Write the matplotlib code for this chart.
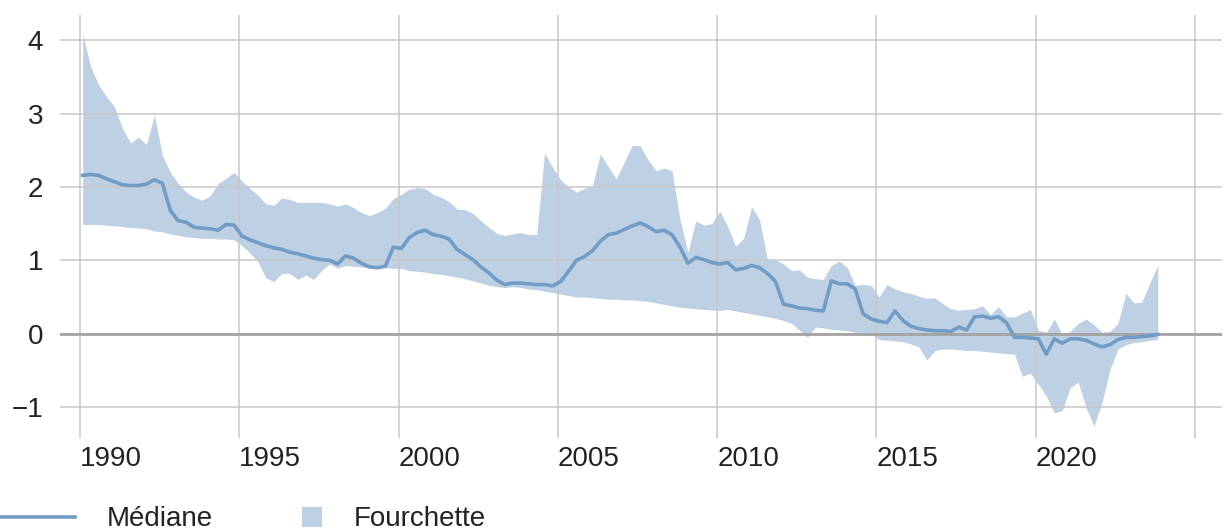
import numpy as np
import matplotlib
matplotlib.use("Agg")
import matplotlib.pyplot as plt
from matplotlib.lines import Line2D
from matplotlib.patches import Rectangle

plt.rcParams['font.family'] = ['Liberation Sans', 'DejaVu Sans']

# quarterly observations, 1990 Q1 .. 2023 Q4 (placed at mid-quarter month)
first_year = 1990
n_quarters = 136

upper = [
    4.08, 3.64, 3.39, 3.23, 3.09, 2.80, 2.60, 2.68, 2.58, 2.98,
    2.43, 2.20, 2.05, 1.93, 1.86, 1.82, 1.88, 2.05, 2.12, 2.20,
    2.08, 1.98, 1.89, 1.77, 1.75, 1.85, 1.83, 1.79, 1.79, 1.79,
    1.79, 1.77, 1.74, 1.77, 1.72, 1.65, 1.61, 1.65, 1.71, 1.84,
    1.90, 1.97, 1.99, 1.98, 1.90, 1.86, 1.80, 1.70, 1.69, 1.64,
    1.54, 1.45, 1.37, 1.34, 1.36, 1.38, 1.35, 1.35, 2.46, 2.27,
    2.10, 2.00, 1.93, 1.98, 2.01, 2.45, 2.28, 2.11, 2.34, 2.57,
    2.56, 2.37, 2.22, 2.26, 2.22, 1.56, 1.11, 1.54, 1.48, 1.50,
    1.67, 1.46, 1.19, 1.30, 1.73, 1.55, 1.00, 1.01, 0.95, 0.86,
    0.87, 0.77, 0.75, 0.74, 0.93, 0.99, 0.90, 0.66, 0.67, 0.66,
    0.50, 0.67, 0.61, 0.57, 0.55, 0.51, 0.48, 0.49, 0.41, 0.34,
    0.32, 0.33, 0.34, 0.38, 0.26, 0.37, 0.23, 0.23, 0.28, 0.33,
    0.05, 0.02, 0.20, -0.01, 0.03, 0.14, 0.20, 0.12, 0.02, 0.03,
    0.14, 0.55, 0.42, 0.43, 0.69, 0.93,
]

median = [
    2.16, 2.17, 2.16, 2.11, 2.07, 2.03, 2.02, 2.02, 2.04, 2.10,
    2.05, 1.68, 1.54, 1.52, 1.45, 1.44, 1.43, 1.41, 1.49, 1.48,
    1.33, 1.28, 1.24, 1.20, 1.17, 1.15, 1.11, 1.09, 1.06, 1.03,
    1.01, 1.00, 0.95, 1.06, 1.03, 0.96, 0.91, 0.90, 0.92, 1.18,
    1.16, 1.31, 1.38, 1.41, 1.35, 1.33, 1.29, 1.15, 1.08, 1.01,
    0.91, 0.83, 0.73, 0.67, 0.69, 0.69, 0.68, 0.67, 0.67, 0.65,
    0.71, 0.85, 1.00, 1.05, 1.13, 1.26, 1.35, 1.37, 1.42, 1.47,
    1.51, 1.46, 1.39, 1.41, 1.35, 1.18, 0.96, 1.04, 1.01, 0.97,
    0.95, 0.97, 0.87, 0.89, 0.93, 0.90, 0.82, 0.71, 0.40, 0.38,
    0.35, 0.34, 0.32, 0.31, 0.72, 0.68, 0.68, 0.61, 0.27, 0.20,
    0.17, 0.15, 0.31, 0.18, 0.10, 0.07, 0.05, 0.04, 0.04, 0.03,
    0.09, 0.05, 0.23, 0.24, 0.21, 0.23, 0.15, -0.05, -0.05, -0.06,
    -0.07, -0.28, -0.07, -0.13, -0.07, -0.07, -0.09, -0.14, -0.18, -0.15,
    -0.08, -0.05, -0.05, -0.04, -0.03, -0.01,
]

lower = [
    1.49, 1.49, 1.49, 1.48, 1.47, 1.46, 1.45, 1.44, 1.43, 1.40,
    1.39, 1.36, 1.34, 1.32, 1.31, 1.30, 1.30, 1.29, 1.29, 1.28,
    1.20, 1.10, 0.98, 0.76, 0.71, 0.82, 0.82, 0.74, 0.80, 0.74,
    0.86, 0.95, 0.89, 0.93, 0.92, 0.91, 0.90, 0.90, 0.90, 0.89,
    0.89, 0.86, 0.85, 0.84, 0.82, 0.81, 0.79, 0.77, 0.75, 0.72,
    0.69, 0.66, 0.64, 0.63, 0.64, 0.63, 0.61, 0.60, 0.58, 0.56,
    0.54, 0.52, 0.50, 0.50, 0.49, 0.48, 0.47, 0.47, 0.46, 0.46,
    0.45, 0.44, 0.42, 0.40, 0.38, 0.36, 0.35, 0.34, 0.33, 0.32,
    0.32, 0.33, 0.31, 0.29, 0.27, 0.25, 0.23, 0.21, 0.18, 0.14,
    0.05, -0.05, 0.09, 0.08, 0.06, 0.05, 0.04, 0.02, 0.01, 0.00,
    -0.08, -0.09, -0.10, -0.11, -0.14, -0.18, -0.36, -0.23, -0.21, -0.21,
    -0.22, -0.23, -0.23, -0.24, -0.25, -0.26, -0.27, -0.28, -0.58, -0.54,
    -0.69, -0.85, -1.08, -1.05, -0.74, -0.66, -1.01, -1.26, -0.94, -0.49,
    -0.21, -0.15, -0.12, -0.11, -0.09, -0.08,
]

year_ticks = [1990, 1995, 2000, 2005, 2010, 2015, 2020, 2025]
year_labels = ["1990", "1995", "2000", "2005", "2010", "2015", "2020", ""]
value_ticks = [-1, 0, 1, 2, 3, 4]
value_labels = ["\u22121", "0", "1", "2", "3", "4"]

dates = first_year + 1 / 12 + 0.25 * np.arange(n_quarters)

line_col = "#719cc6"
band_col = "#bed0e3"
grid_col = "#c8c8c8"
text_col = "#222222"
fsize = 20

fig = plt.figure(figsize=(12.24, 5.32), dpi=100)
W, H = 1224, 532
ax = fig.add_axes([60 / W, 1 - 428 / H, (1222 - 60) / W, (428 - 15) / H])

ax.fill_between(dates, lower, upper, color=band_col, lw=0, zorder=1)
ax.plot(dates, median, color=line_col, lw=2.6, zorder=4, solid_joinstyle="round")

ax.set_xlim(1989.37, 2025.85)
ax.set_ylim(-1.286, 4.345)

ax.set_xticks(year_ticks)
ax.set_xticklabels(year_labels)
ax.set_yticks(value_ticks)
ax.set_yticklabels(value_labels)
for lab in ax.get_xticklabels():
    lab.set_ha("left")

ax.grid(True, color=grid_col, lw=1.1)
ax.set_axisbelow(False)
ax.axhline(0, color="#a3a3a3", lw=2.0, zorder=3)

for s in ax.spines.values():
    s.set_visible(False)

ax.tick_params(axis="x", length=7, width=1.1, color=grid_col, pad=6,
               labelsize=fsize, labelcolor=text_col)
ax.tick_params(axis="y", length=0, pad=12, labelsize=fsize, labelcolor=text_col)

# legend below the chart
fig.add_artist(Line2D([0, 75 / W], [1 - 517 / H, 1 - 517 / H],
                      transform=fig.transFigure, color=line_col, lw=2.6))
fig.add_artist(Rectangle((302 / W, 1 - 527 / H), 20 / W, 20 / H,
                         transform=fig.transFigure, color=band_col, lw=0))
fig.text(107 / W, 1 - 526 / H, "Médiane", fontsize=fsize, color=text_col,
         va="baseline", ha="left")
fig.text(354 / W, 1 - 526 / H, "Fourchette", fontsize=fsize, color=text_col,
         va="baseline", ha="left")

fig.savefig("out.png", dpi=100)
